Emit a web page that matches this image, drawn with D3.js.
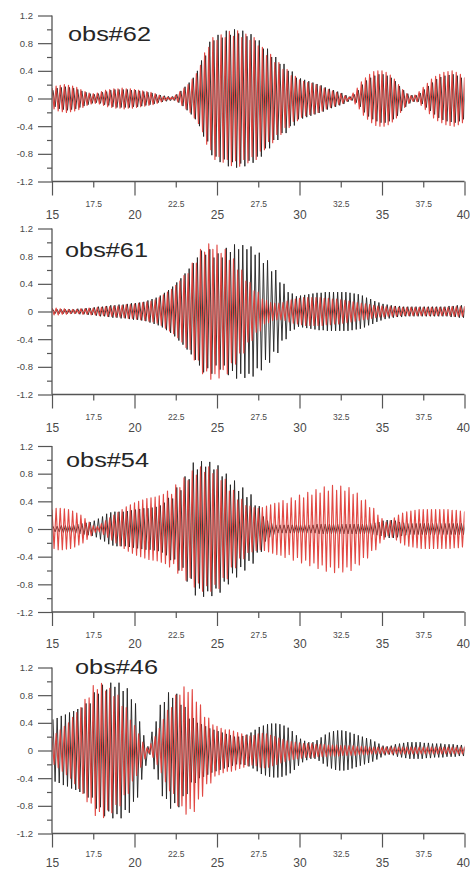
<!DOCTYPE html>
<html>
<head>
<meta charset="utf-8">
<script src="https://cdn.jsdelivr.net/npm/d3@7"></script>
<style>
  html, body { margin: 0; padding: 0; background: #fff; }
  svg { display: block; }
</style>
</head>
<body>
<svg id="chart" width="470" height="870"></svg>
<script>
// Peak amplitude of each trace in successive 0.25 s windows, from 15 s to 40 s.
// Each window is drawn as one crest (+amplitude) followed by one trough (-amplitude).
const startTime = 15;
const windowLength = 0.25;

const obs62Black = [
  0.12,0.15,0.16,0.17, 0.16,0.15,0.13,0.11, 0.09,0.07,0.06,0.07, 0.09,0.10,0.12,0.13,
  0.13,0.13,0.13,0.12, 0.12,0.11,0.10,0.09, 0.08,0.06,0.05,0.04, 0.03,0.03,0.06,0.11,
  0.17,0.23,0.30,0.40, 0.55,0.62,0.82,0.84, 0.92,0.88,0.98,0.92, 1.00,0.94,0.98,0.90,
  0.93,0.84,0.84,0.72, 0.72,0.60,0.60,0.50, 0.50,0.40,0.39,0.30, 0.29,0.27,0.25,0.23,
  0.21,0.19,0.16,0.14, 0.12,0.10,0.08,0.05, 0.03,0.06,0.12,0.20, 0.26,0.30,0.33,0.35,
  0.35,0.33,0.30,0.25, 0.18,0.12,0.07,0.05, 0.05,0.08,0.13,0.18, 0.23,0.28,0.31,0.33,
  0.34,0.35,0.33,0.30, 0.26
];
const obs62Red = [
  0.15,0.18,0.19,0.20, 0.19,0.18,0.16,0.13, 0.10,0.08,0.07,0.08, 0.10,0.12,0.13,0.14,
  0.14,0.15,0.14,0.14, 0.13,0.12,0.11,0.10, 0.09,0.07,0.05,0.03, 0.02,0.02,0.05,0.10,
  0.15,0.20,0.28,0.36, 0.48,0.66,0.74,0.88, 0.84,0.92,0.88,0.97, 0.90,0.98,0.88,0.93,
  0.84,0.88,0.76,0.74, 0.62,0.64,0.52,0.52, 0.42,0.42,0.33,0.32, 0.27,0.25,0.23,0.22,
  0.20,0.18,0.15,0.13, 0.11,0.09,0.07,0.04, 0.02,0.08,0.15,0.24, 0.30,0.35,0.39,0.40,
  0.40,0.38,0.34,0.28, 0.20,0.13,0.07,0.04, 0.05,0.10,0.16,0.22, 0.28,0.32,0.35,0.38,
  0.39,0.40,0.38,0.35, 0.30
];

const obs61Black = [
  0.03,0.03,0.03,0.03, 0.03,0.03,0.04,0.04, 0.05,0.05,0.06,0.07, 0.07,0.08,0.09,0.09,
  0.10,0.10,0.11,0.12, 0.12,0.13,0.14,0.16, 0.18,0.20,0.23,0.27, 0.31,0.36,0.42,0.48,
  0.55,0.62,0.70,0.78, 0.88,0.82,0.90,0.78, 0.84,0.78,0.92,0.86, 0.97,0.90,0.96,0.90,
  0.94,0.82,0.85,0.70, 0.74,0.58,0.60,0.42, 0.40,0.28,0.26,0.22, 0.23,0.24,0.25,0.26,
  0.27,0.27,0.28,0.28, 0.28,0.28,0.28,0.28, 0.27,0.26,0.25,0.23, 0.20,0.18,0.15,0.13,
  0.11,0.10,0.09,0.08, 0.08,0.07,0.07,0.07, 0.07,0.07,0.07,0.07, 0.07,0.07,0.07,0.07,
  0.08,0.08,0.09,0.09, 0.09
];
const obs61Red = [
  0.05,0.05,0.04,0.04, 0.03,0.03,0.03,0.04, 0.04,0.05,0.05,0.06, 0.06,0.07,0.07,0.08,
  0.08,0.09,0.10,0.10, 0.11,0.12,0.13,0.14, 0.15,0.17,0.20,0.24, 0.28,0.32,0.38,0.44,
  0.52,0.55,0.70,0.70, 0.90,0.86,0.98,0.90, 0.96,0.84,0.90,0.74, 0.76,0.60,0.60,0.44,
  0.42,0.30,0.28,0.18, 0.16,0.13,0.12,0.12, 0.13,0.15,0.17,0.18, 0.19,0.20,0.20,0.20,
  0.20,0.20,0.19,0.19, 0.18,0.18,0.17,0.16, 0.15,0.14,0.13,0.12, 0.11,0.10,0.09,0.08,
  0.08,0.07,0.07,0.07, 0.06,0.06,0.06,0.06, 0.06,0.06,0.06,0.06, 0.06,0.06,0.06,0.06,
  0.06,0.07,0.07,0.07, 0.07
];

const obs54Black = [
  0.04,0.04,0.05,0.05, 0.05,0.06,0.07,0.08, 0.09,0.10,0.12,0.15, 0.18,0.22,0.24,0.25,
  0.25,0.25,0.26,0.27, 0.28,0.29,0.30,0.30, 0.31,0.32,0.34,0.38, 0.45,0.44,0.60,0.56,
  0.76,0.72,0.96,0.86, 0.98,0.90,0.97,0.86, 0.92,0.76,0.80,0.64, 0.70,0.55,0.60,0.46,
  0.50,0.34,0.33,0.18, 0.12,0.08,0.06,0.06, 0.06,0.06,0.06,0.06, 0.06,0.06,0.06,0.06,
  0.07,0.07,0.07,0.07, 0.07,0.07,0.07,0.07, 0.07,0.07,0.07,0.07, 0.07,0.08,0.09,0.10,
  0.12,0.13,0.13,0.12, 0.10,0.09,0.08,0.08, 0.08,0.08,0.08,0.08, 0.08,0.08,0.08,0.08,
  0.08,0.08,0.08,0.08, 0.08
];
const obs54Red = [
  0.28,0.30,0.30,0.29, 0.28,0.26,0.23,0.20, 0.15,0.10,0.05,0.04, 0.08,0.12,0.16,0.20,
  0.24,0.28,0.32,0.35, 0.38,0.40,0.42,0.44, 0.45,0.46,0.48,0.50, 0.55,0.50,0.64,0.60,
  0.74,0.70,0.84,0.78, 0.90,0.82,0.90,0.80, 0.86,0.70,0.72,0.55, 0.56,0.42,0.43,0.34,
  0.33,0.31,0.30,0.31, 0.33,0.35,0.37,0.38, 0.41,0.37,0.45,0.41, 0.49,0.45,0.53,0.49,
  0.57,0.52,0.61,0.55, 0.63,0.56,0.62,0.55, 0.60,0.50,0.52,0.41, 0.42,0.31,0.30,0.20,
  0.15,0.10,0.12,0.16, 0.20,0.23,0.25,0.26, 0.27,0.28,0.28,0.28, 0.28,0.28,0.28,0.28,
  0.28,0.27,0.27,0.26, 0.25
];

const obs46Black = [
  0.45,0.47,0.50,0.52, 0.55,0.57,0.60,0.62, 0.68,0.68,0.84,0.82, 0.95,0.88,0.98,0.92,
  0.98,0.86,0.90,0.74, 0.68,0.42,0.22,0.06, 0.27,0.42,0.66,0.70, 0.84,0.76,0.82,0.66,
  0.63,0.46,0.47,0.40, 0.38,0.35,0.32,0.30, 0.28,0.26,0.24,0.22, 0.20,0.20,0.21,0.23,
  0.26,0.30,0.34,0.36, 0.38,0.39,0.39,0.38, 0.36,0.33,0.28,0.22, 0.17,0.14,0.12,0.12,
  0.15,0.19,0.23,0.26, 0.28,0.29,0.29,0.28, 0.26,0.24,0.22,0.20, 0.18,0.16,0.13,0.10,
  0.07,0.06,0.07,0.09, 0.10,0.11,0.12,0.12, 0.12,0.12,0.11,0.11, 0.10,0.10,0.10,0.09,
  0.09,0.09,0.08,0.08, 0.08
];
const obs46Red = [
  0.20,0.25,0.30,0.35, 0.40,0.48,0.55,0.62, 0.74,0.76,0.94,0.88, 0.97,0.86,0.90,0.78,
  0.80,0.64,0.62,0.44, 0.36,0.24,0.12,0.04, 0.10,0.20,0.32,0.45, 0.58,0.62,0.80,0.80,
  0.92,0.84,0.88,0.70, 0.66,0.48,0.47,0.37, 0.35,0.32,0.30,0.30, 0.28,0.26,0.24,0.22,
  0.21,0.22,0.24,0.25, 0.24,0.22,0.20,0.18, 0.16,0.14,0.13,0.12, 0.11,0.10,0.10,0.10,
  0.09,0.09,0.09,0.08, 0.08,0.08,0.07,0.07, 0.07,0.07,0.06,0.06, 0.06,0.05,0.05,0.05,
  0.05,0.05,0.05,0.05, 0.05,0.05,0.05,0.05, 0.05,0.05,0.05,0.05, 0.05,0.05,0.05,0.05,
  0.05,0.05,0.05,0.05, 0.05
];

const panelTitles = ["obs#62", "obs#61", "obs#54", "obs#46"];
const blackTraces = [obs62Black, obs61Black, obs54Black, obs46Black];
const redTraces = [obs62Red, obs61Red, obs54Red, obs46Red];

// Axis ticks
const xMajorTicks = [15, 20, 25, 30, 35, 40];
const xMinorTicks = [17.5, 22.5, 27.5, 32.5, 37.5];
const yMajorTicks = [1.2, 0.8, 0.4, 0, -0.4, -0.8, -1.2];
const yMinorTicks = [1.0, 0.6, 0.2, -0.2, -0.6, -1.0];

// Layout of the four stacked panels
const plotLeft = 52, plotRight = 464.5, plotHeight = 166;
const panelTops = [15.5, 228.5, 446, 667.5];
const titlePos = [[68, 40.5], [65, 257], [66, 466.5], [75, 674]];
const majorLabelDrop = [37, 37, 36, 33];
const minorLabelDrop = [25, 25, 26, 23];

const svg = d3.select("#chart");
const x = d3.scaleLinear().domain([15, 40]).range([plotLeft, plotRight]);
const axisColor = "#555";
const labelColor = "#4a4a4a";
const font = "Liberation Sans, Arial, sans-serif";

// crest at the start of each window, trough half a window later
const toPeaks = (amps, offset) => amps.flatMap((a, i) => {
  const t = startTime + i * windowLength + offset;
  return [{ t, v: a }, { t: t + windowLength / 2, v: -a }];
});

panelTitles.forEach((title, p) => {
  const top = panelTops[p];
  const bottom = top + plotHeight;
  const y = d3.scaleLinear().domain([-1.2, 1.2]).range([bottom, top]);
  const g = svg.append("g").attr("class", "panel");

  // clip traces to the time window
  const clipId = "clip" + p;
  g.append("clipPath").attr("id", clipId)
    .append("rect")
    .attr("x", x(15)).attr("y", top - 10)
    .attr("width", x(40) - x(15)).attr("height", plotHeight + 20);

  const line = d3.line().x(d => x(d.t)).y(d => y(d.v));

  const traces = g.append("g").attr("clip-path", `url(#${clipId})`);
  traces.append("path")
    .datum(toPeaks(blackTraces[p], windowLength / 4))
    .attr("d", line)
    .attr("fill", "none")
    .attr("stroke", "#222")
    .attr("stroke-width", 0.9)
    .attr("stroke-linejoin", "round");
  traces.append("path")
    .datum(toPeaks(redTraces[p], 0))
    .attr("d", line)
    .attr("fill", "none")
    .attr("stroke", "#de3a34")
    .attr("stroke-opacity", 0.92)
    .attr("stroke-width", 1.15)
    .attr("stroke-linejoin", "round");

  // y axis: long labelled ticks, short minor ticks
  const yAxisMajor = d3.axisLeft(y).tickValues(yMajorTicks).tickSize(14).tickPadding(5)
    .tickFormat(d => d === 0 ? "0" : d3.format(".1f")(d).replace("−", "-"));
  const yAxisMinor = d3.axisLeft(y).tickValues(yMinorTicks).tickSize(5).tickFormat("");
  const ya = g.append("g").attr("transform", `translate(${plotLeft},0)`).call(yAxisMajor);
  const ym = g.append("g").attr("transform", `translate(${plotLeft},0)`).call(yAxisMinor);
  [ya, ym].forEach(a => {
    a.select(".domain").remove();
    a.selectAll("line").attr("stroke", axisColor).attr("stroke-width", 1.2);
  });
  ya.selectAll("text")
    .attr("fill", labelColor)
    .attr("font-family", font)
    .attr("font-size", 9.5);

  // x axis
  const xAxisMajor = d3.axisBottom(x).tickValues(xMajorTicks).tickSize(14).tickFormat(d3.format("d"));
  const xAxisMinor = d3.axisBottom(x).tickValues(xMinorTicks).tickSize(6).tickFormat(d3.format(".1f"));
  const xa = g.append("g").attr("transform", `translate(0,${bottom})`).call(xAxisMajor);
  const xm = g.append("g").attr("transform", `translate(0,${bottom})`).call(xAxisMinor);
  [xa, xm].forEach(a => {
    a.select(".domain").remove();
    a.selectAll("line").attr("stroke", axisColor).attr("stroke-width", 1.2);
  });
  xa.selectAll("text")
    .attr("y", majorLabelDrop[p]).attr("dy", 0)
    .attr("fill", labelColor)
    .attr("font-family", font)
    .attr("font-size", 12)
    .filter(d => d === 40)
    .attr("text-anchor", "end")
    .attr("x", 470 - x(40) - 0.5);
  xm.selectAll("text")
    .attr("y", minorLabelDrop[p]).attr("dy", 0)
    .attr("fill", labelColor)
    .attr("font-family", font)
    .attr("font-size", 8.5);

  // axis lines
  g.append("line")
    .attr("x1", plotLeft).attr("x2", plotLeft)
    .attr("y1", y(1.2)).attr("y2", bottom)
    .attr("stroke", axisColor).attr("stroke-width", 1.3);
  g.append("line")
    .attr("x1", plotLeft).attr("x2", x(40))
    .attr("y1", bottom).attr("y2", bottom)
    .attr("stroke", axisColor).attr("stroke-width", 1.3);

  // panel title
  g.append("text")
    .attr("x", titlePos[p][0]).attr("y", titlePos[p][1])
    .attr("font-family", font)
    .attr("font-size", 20)
    .attr("textLength", 83)
    .attr("lengthAdjust", "spacingAndGlyphs")
    .attr("fill", "#262626")
    .text(title);
});
</script>
</body>
</html>
